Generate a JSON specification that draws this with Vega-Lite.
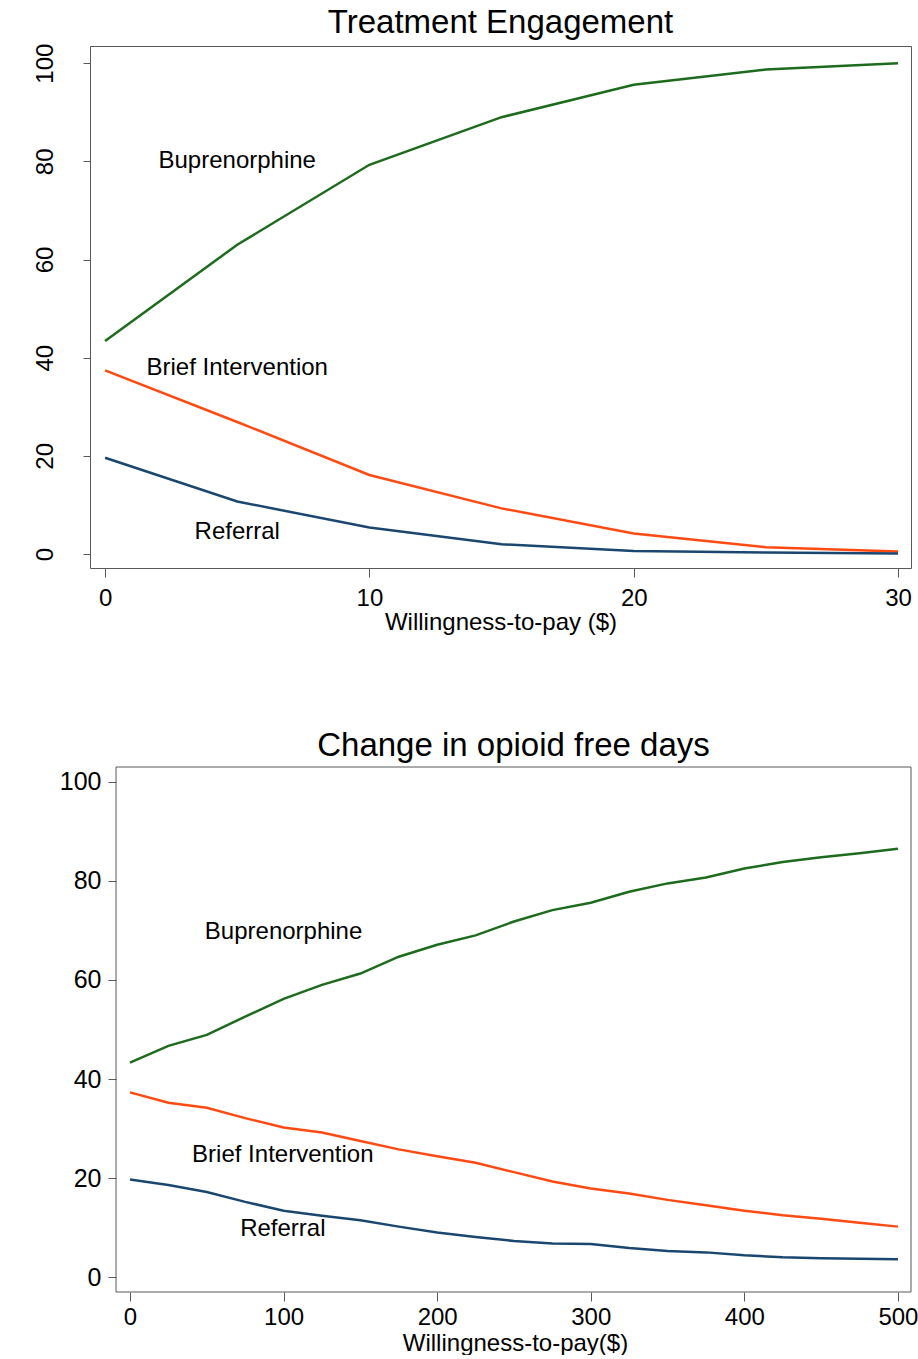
{
  "$schema": "https://vega.github.io/schema/vega-lite/v6.json",
  "background": "white",
  "padding": {"left": 0, "top": 6, "right": 0, "bottom": 0},
  "config": {
    "font": "Liberation Sans",
    "view": {"stroke": "#595959", "strokeWidth": 1},
    "axis": {"grid": false, "domain": false, "tickColor": "#595959", "tickWidth": 1, "labelColor": "black", "titleColor": "black", "titleFontWeight": "normal"},
    "title": {"fontWeight": "normal", "color": "black"}
  },
  "datasets": {
    "te": [
      {"wtp": 0, "group": "Buprenorphine", "value": 43.4},
      {"wtp": 5, "group": "Buprenorphine", "value": 63.0},
      {"wtp": 10, "group": "Buprenorphine", "value": 79.3},
      {"wtp": 15, "group": "Buprenorphine", "value": 89.0},
      {"wtp": 20, "group": "Buprenorphine", "value": 95.6},
      {"wtp": 25, "group": "Buprenorphine", "value": 98.7},
      {"wtp": 30, "group": "Buprenorphine", "value": 100.0},
      {"wtp": 0, "group": "Brief Intervention", "value": 37.4},
      {"wtp": 5, "group": "Brief Intervention", "value": 26.9},
      {"wtp": 10, "group": "Brief Intervention", "value": 16.1},
      {"wtp": 15, "group": "Brief Intervention", "value": 9.3},
      {"wtp": 20, "group": "Brief Intervention", "value": 4.2},
      {"wtp": 25, "group": "Brief Intervention", "value": 1.4},
      {"wtp": 30, "group": "Brief Intervention", "value": 0.5},
      {"wtp": 0, "group": "Referral", "value": 19.6},
      {"wtp": 5, "group": "Referral", "value": 10.7},
      {"wtp": 10, "group": "Referral", "value": 5.4},
      {"wtp": 15, "group": "Referral", "value": 2.0},
      {"wtp": 20, "group": "Referral", "value": 0.6},
      {"wtp": 25, "group": "Referral", "value": 0.3},
      {"wtp": 30, "group": "Referral", "value": 0.1}
    ],
    "teLabels": [
      {"wtp": 5, "value": 80, "label": "Buprenorphine"},
      {"wtp": 5, "value": 37.9, "label": "Brief Intervention"},
      {"wtp": 5, "value": 4.5, "label": "Referral"}
    ],
    "ofd": [
      {"wtp": 0, "group": "Buprenorphine", "value": 43.3},
      {"wtp": 25, "group": "Buprenorphine", "value": 46.7},
      {"wtp": 50, "group": "Buprenorphine", "value": 48.9},
      {"wtp": 75, "group": "Buprenorphine", "value": 52.6},
      {"wtp": 100, "group": "Buprenorphine", "value": 56.2},
      {"wtp": 125, "group": "Buprenorphine", "value": 59.0},
      {"wtp": 150, "group": "Buprenorphine", "value": 61.3},
      {"wtp": 175, "group": "Buprenorphine", "value": 64.7},
      {"wtp": 200, "group": "Buprenorphine", "value": 67.1},
      {"wtp": 225, "group": "Buprenorphine", "value": 69.0},
      {"wtp": 250, "group": "Buprenorphine", "value": 71.8},
      {"wtp": 275, "group": "Buprenorphine", "value": 74.1},
      {"wtp": 300, "group": "Buprenorphine", "value": 75.6},
      {"wtp": 325, "group": "Buprenorphine", "value": 77.8},
      {"wtp": 350, "group": "Buprenorphine", "value": 79.5},
      {"wtp": 375, "group": "Buprenorphine", "value": 80.7},
      {"wtp": 400, "group": "Buprenorphine", "value": 82.5},
      {"wtp": 425, "group": "Buprenorphine", "value": 83.8},
      {"wtp": 450, "group": "Buprenorphine", "value": 84.8},
      {"wtp": 475, "group": "Buprenorphine", "value": 85.6},
      {"wtp": 500, "group": "Buprenorphine", "value": 86.5},
      {"wtp": 0, "group": "Brief Intervention", "value": 37.3},
      {"wtp": 25, "group": "Brief Intervention", "value": 35.2},
      {"wtp": 50, "group": "Brief Intervention", "value": 34.2},
      {"wtp": 75, "group": "Brief Intervention", "value": 32.1},
      {"wtp": 100, "group": "Brief Intervention", "value": 30.2},
      {"wtp": 125, "group": "Brief Intervention", "value": 29.2},
      {"wtp": 150, "group": "Brief Intervention", "value": 27.5},
      {"wtp": 175, "group": "Brief Intervention", "value": 25.8},
      {"wtp": 200, "group": "Brief Intervention", "value": 24.4},
      {"wtp": 225, "group": "Brief Intervention", "value": 23.1},
      {"wtp": 250, "group": "Brief Intervention", "value": 21.2},
      {"wtp": 275, "group": "Brief Intervention", "value": 19.3},
      {"wtp": 300, "group": "Brief Intervention", "value": 17.9},
      {"wtp": 325, "group": "Brief Intervention", "value": 16.9},
      {"wtp": 350, "group": "Brief Intervention", "value": 15.6},
      {"wtp": 375, "group": "Brief Intervention", "value": 14.5},
      {"wtp": 400, "group": "Brief Intervention", "value": 13.4},
      {"wtp": 425, "group": "Brief Intervention", "value": 12.5},
      {"wtp": 450, "group": "Brief Intervention", "value": 11.8},
      {"wtp": 475, "group": "Brief Intervention", "value": 11.0},
      {"wtp": 500, "group": "Brief Intervention", "value": 10.2},
      {"wtp": 0, "group": "Referral", "value": 19.7},
      {"wtp": 25, "group": "Referral", "value": 18.6},
      {"wtp": 50, "group": "Referral", "value": 17.2},
      {"wtp": 75, "group": "Referral", "value": 15.2},
      {"wtp": 100, "group": "Referral", "value": 13.4},
      {"wtp": 125, "group": "Referral", "value": 12.4},
      {"wtp": 150, "group": "Referral", "value": 11.5},
      {"wtp": 175, "group": "Referral", "value": 10.2},
      {"wtp": 200, "group": "Referral", "value": 9.0},
      {"wtp": 225, "group": "Referral", "value": 8.1},
      {"wtp": 250, "group": "Referral", "value": 7.3},
      {"wtp": 275, "group": "Referral", "value": 6.8},
      {"wtp": 300, "group": "Referral", "value": 6.7},
      {"wtp": 325, "group": "Referral", "value": 5.9},
      {"wtp": 350, "group": "Referral", "value": 5.3},
      {"wtp": 375, "group": "Referral", "value": 5.0},
      {"wtp": 400, "group": "Referral", "value": 4.4},
      {"wtp": 425, "group": "Referral", "value": 4.0},
      {"wtp": 450, "group": "Referral", "value": 3.8},
      {"wtp": 475, "group": "Referral", "value": 3.7},
      {"wtp": 500, "group": "Referral", "value": 3.6}
    ],
    "ofdLabels": [
      {"wtp": 100, "value": 69.7, "label": "Buprenorphine"},
      {"wtp": 99.5, "value": 24.6, "label": "Brief Intervention"},
      {"wtp": 99.5, "value": 9.7, "label": "Referral"}
    ]
  },
  "vconcat": [
    {
      "width": 821,
      "height": 522,
      "title": {"text": "Treatment Engagement", "fontSize": 33, "offset": 3},
      "layer": [
        {
          "data": {"name": "te"},
          "mark": {"type": "line", "strokeWidth": 2.5},
          "encoding": {
            "x": {"field": "wtp", "type": "quantitative",
              "scale": {"domain": [-0.57, 30.49], "nice": false, "zero": false},
              "axis": {"values": [0, 10, 20, 30], "title": "Willingness-to-pay ($)", "titleFontSize": 24, "labelFontSize": 24, "tickSize": 9, "labelPadding": 9, "titlePadding": 0}},
            "y": {"field": "value", "type": "quantitative",
              "scale": {"domain": [-2.85, 103.5], "nice": false, "zero": false},
              "axis": {"values": [0, 20, 40, 60, 80, 100], "title": null, "labelFontSize": 24, "labelAngle": 270, "labelAlign": "center", "labelBaseline": "middle", "labelPadding": 38, "tickSize": 7, "minExtent": 89, "maxExtent": 89}},
            "color": {"field": "group", "type": "nominal", "legend": null,
              "scale": {"domain": ["Buprenorphine", "Brief Intervention", "Referral"], "range": ["#1d6b1d", "#ff4a12", "#1a476f"]}}
          }
        },
        {
          "data": {"name": "teLabels"},
          "mark": {"type": "text", "fontSize": 24, "color": "black", "align": "center", "baseline": "middle"},
          "encoding": {
            "x": {"field": "wtp", "type": "quantitative"},
            "y": {"field": "value", "type": "quantitative"},
            "text": {"field": "label"}
          }
        }
      ]
    },
    {
      "width": 821,
      "height": 525,
      "view": {"stroke": null},
      "title": {"text": "Change in opioid free days", "fontSize": 33, "offset": 4, "anchor": "middle", "dx": 13},
      "layer": [
        {
          "data": {"values": [{}]},
          "mark": {"type": "rect", "fill": null, "stroke": "#595959", "strokeWidth": 1},
          "encoding": {
            "x": {"datum": -9.1, "type": "quantitative"},
            "x2": {"datum": 508.5},
            "y": {"datum": -3.0, "type": "quantitative"},
            "y2": {"datum": 103}
          }
        },
        {
          "data": {"name": "ofd"},
          "mark": {"type": "line", "strokeWidth": 2.5},
          "encoding": {
            "x": {"field": "wtp", "type": "quantitative",
              "scale": {"domain": [-26.04, 508.5], "nice": false, "zero": false},
              "axis": {"values": [0, 100, 200, 300, 400, 500], "title": "Willingness-to-pay($)", "titleFontSize": 24, "labelFontSize": 24, "tickSize": 9, "labelPadding": 4, "titlePadding": 2, "titleX": 425}},
            "y": {"field": "value", "type": "quantitative",
              "scale": {"domain": [-3.0, 103], "nice": false, "zero": false},
              "axis": {"values": [0, 20, 40, 60, 80, 100], "title": null, "labelFontSize": 25, "labelAngle": 0, "labelPadding": 7, "tickSize": 8, "offset": -26}},
            "color": {"field": "group", "type": "nominal", "legend": null,
              "scale": {"domain": ["Buprenorphine", "Brief Intervention", "Referral"], "range": ["#1d6b1d", "#ff4a12", "#1a476f"]}}
          }
        },
        {
          "data": {"name": "ofdLabels"},
          "mark": {"type": "text", "fontSize": 24, "color": "black", "align": "center", "baseline": "middle"},
          "encoding": {
            "x": {"field": "wtp", "type": "quantitative"},
            "y": {"field": "value", "type": "quantitative"},
            "text": {"field": "label"}
          }
        }
      ]
    }
  ],
  "spacing": 94
}
